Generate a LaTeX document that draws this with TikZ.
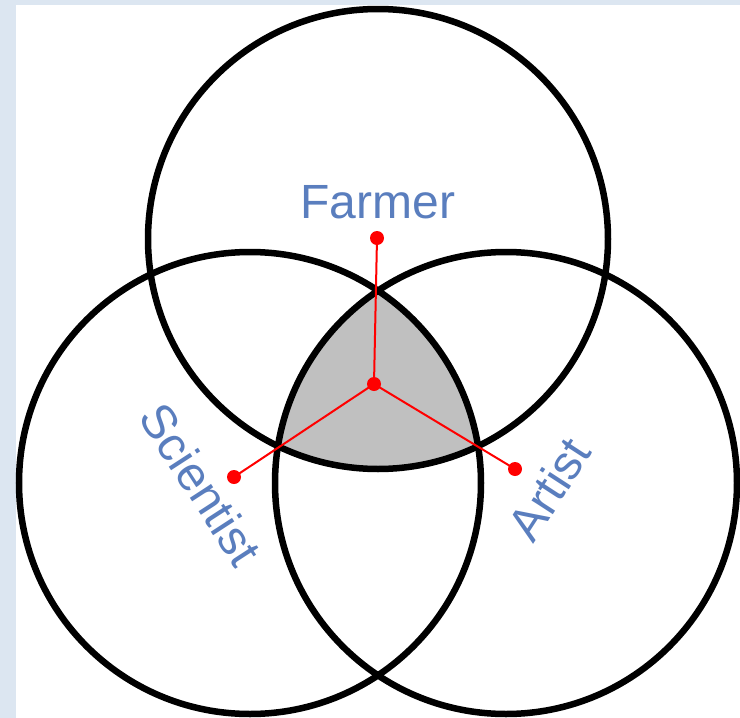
\documentclass[tikz,border=0pt]{standalone}
\usepackage{fontspec}
\setmainfont{Liberation Sans}
\definecolor{bgblue}{RGB}{220,230,241}
\definecolor{lblblue}{RGB}{90,126,190}
\definecolor{grayfill}{RGB}{192,192,192}
\tikzset{
  ring/.style={draw=black,line width=6.5pt},
  spoke/.style={draw=red,line width=2pt},
  dotmark/.style={circle,fill=red,inner sep=0pt,minimum size=14pt},
  lbl/.style={text=lblblue,font=\fontsize{48}{50}\selectfont,inner sep=0pt}
}
\begin{document}
\begin{tikzpicture}[x=1pt,y=-1pt]
\useasboundingbox (0,0) rectangle (740,718);
\fill[bgblue] (0,0) rectangle (740,718);
\fill[white] (16,5) rectangle (740,718);
% shaded triple intersection
\begin{scope}
  \clip (378,239) circle (230);
  \clip (250,483) circle (231);
  \fill[grayfill] (506,483) circle (231);
\end{scope}
\draw[ring] (378,239) circle (230);
\draw[ring] (250,483) circle (231);
\draw[ring] (506,483) circle (231);
% red spokes
\node[dotmark] (c) at (374,384) {};
\node[dotmark] (f) at (377,238) {};
\node[dotmark] (s) at (234,477) {};
\node[dotmark] (a) at (515,469) {};
\draw[spoke] (c.center) -- (f.center);
\draw[spoke] (c.center) -- (s.center);
\draw[spoke] (c.center) -- (a.center);
% labels
\node[lbl] (lf) at (378,202) {Farmer};
\node[lbl,rotate=-57] (ls) at (201,484) {Scientist};
\node[lbl,rotate=57] (la) at (549,489) {Artist};
\end{tikzpicture}
\end{document}
